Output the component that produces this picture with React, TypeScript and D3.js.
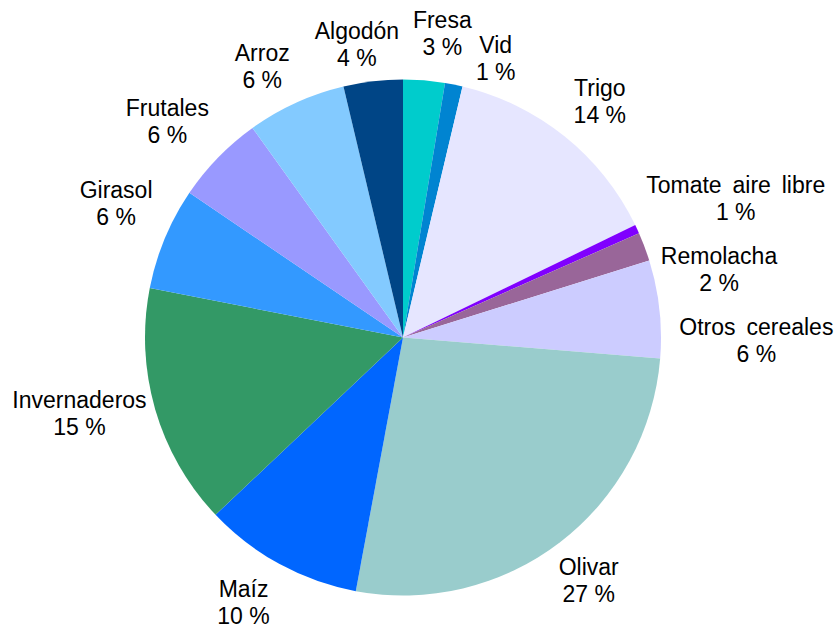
import React from 'react';
import * as d3 from 'd3';

// slice names, clockwise from 12 o'clock
const crops = [
  'Fresa', 'Vid', 'Trigo', 'Tomate aire libre', 'Remolacha', 'Otros cereales',
  'Olivar', 'Maíz', 'Invernaderos', 'Girasol', 'Frutales', 'Arroz', 'Algodón',
];
// share of each crop (percent)
const shares = [2.6, 1.1, 14.1, 0.55, 1.8, 6.1, 26.6, 10.0, 15.1, 6.4, 5.6, 6.2, 3.7];
const colors = [
  '#00cccc', '#0084d1', '#e6e6ff', '#8000ff', '#996699', '#ccccff',
  '#99cccc', '#0066ff', '#339966', '#3399ff', '#9999ff', '#83caff', '#004586',
];

// labels that LibreOffice pushed aside to avoid overlap
const labelNudge: Record<string, [number, number]> = {
  Fresa: [15, -10],
  Vid: [36, 11],
  Trigo: [8, 0],
  'Tomate aire libre': [0, -14],
  Remolacha: [7, 36],
  'Otros cereales': [10, 36],
  Olivar: [0, 3],
  'Maíz': [-17, 3],
  Invernaderos: [1, -7],
  Girasol: [-3, -20],
  Frutales: [-2, -3],
  Arroz: [-17, 0],
  'Algodón': [-10, 0],
};

const width = 838;
const height = 628;
const cx = 403;
const cy = 337.5;
const radius = 258;
const fontSize = 23;
const lineGap = 27;
const wordGap = 4.5;
const font = `${fontSize}px "Liberation Sans", Arial, sans-serif`;

const measure = (() => {
  const ctx = document.createElement('canvas').getContext('2d');
  return (txt: string, gap = 0) => {
    const spaces = txt.split(' ').length - 1;
    if (!ctx) return txt.length * fontSize * 0.55 + spaces * gap;
    ctx.font = font;
    return ctx.measureText(txt).width + spaces * gap;
  };
})();

const App = () => {
  const data = crops.map((name, i) => ({ name, value: shares[i], color: colors[i] }));
  const total = d3.sum(shares);

  const pie = d3.pie<any>().sort(null).value((d) => d.value);
  const arcs = pie(data);
  const arc = d3.arc<any>().innerRadius(0).outerRadius(radius);

  return (
    <svg width={width} height={height} style={{ position: 'absolute', left: 0, top: 0 }}>
      <g transform={`translate(${cx},${cy})`}>
        {arcs.map((a) => (
          <path key={a.data.name} d={arc(a) || ''} fill={a.data.color} />
        ))}
      </g>
      <g style={{ font }} fill="#000">
        {arcs.map((a) => {
          const pct = `${Math.round((a.data.value / total) * 100)} %`;
          const mid = (a.startAngle + a.endAngle) / 2;
          const dx = Math.sin(mid);
          const dy = -Math.cos(mid);
          const ax = cx + (radius + 10) * dx;
          const ay = cy + (radius + 10) * dy;
          const w = Math.max(measure(a.data.name, wordGap), measure(pct));
          const h = lineGap * 2;
          const m = Math.max(Math.abs(dx), Math.abs(dy));
          const nudge = labelNudge[a.data.name] || [0, 0];
          const bx = ax + (dx / m) * (w / 2) + nudge[0];
          const by = ay + (dy / m) * (h / 2) + nudge[1];
          return (
            <text key={a.data.name} x={bx} textAnchor="middle">
              <tspan x={bx} y={by - lineGap / 2 + 8} style={{ wordSpacing: `${wordGap}px` }}>
                {a.data.name}
              </tspan>
              <tspan x={bx} y={by + lineGap / 2 + 8}>{pct}</tspan>
            </text>
          );
        })}
      </g>
    </svg>
  );
};

export default App;
